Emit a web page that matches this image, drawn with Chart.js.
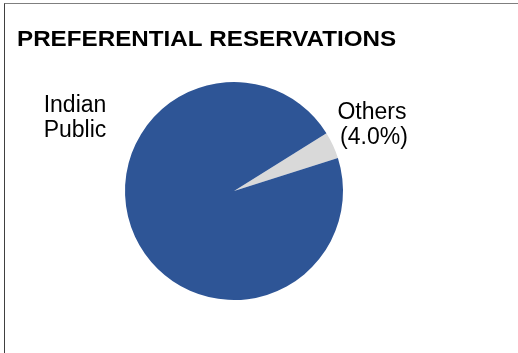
<!DOCTYPE html>
<html>
<head>
<meta charset="utf-8">
<script src="https://cdn.jsdelivr.net/npm/chart.js@4/dist/chart.umd.min.js"></script>
<style>
  html, body { margin: 0; padding: 0; background: #fff; overflow: hidden; }
  #wrap { position: relative; width: 518px; height: 353px; }
  #frame {
    position: absolute; left: 4px; top: 3px; width: 600px; height: 400px;
    border-top: 1px solid #7f7f7f; border-left: 1px solid #404040;
  }
  canvas { position: absolute; left: 0; top: 0; }
</style>
</head>
<body>
<div id="wrap">
  <div id="frame"></div>
  <canvas id="chart" width="518" height="353"></canvas>
</div>
<script>
const chartTitle = "PREFERENTIAL RESERVATIONS";
const categories = ["Others", "Indian Public"];
const shares = [4.0, 96.0];
const sliceColors = ["#d9d9d9", "#2e5596"];

const FONT = "'Liberation Sans', Arial, sans-serif";

// title + slice labels, placed off the arcs the library computed
const labelPlugin = {
    id: 'labels',
    afterDraw(chart){
        const ctx = chart.ctx;
        const arcs = chart.getDatasetMeta(0).data;
        ctx.save();
        ctx.fillStyle = "#000";
        ctx.textBaseline = "alphabetic";

        // the original title is a bit wider than Arial bold, so stretch it
        ctx.save();
        ctx.translate(17, 46);
        ctx.scale(1.1, 1);
        ctx.font = "bold 22px " + FONT;
        ctx.textAlign = "left";
        ctx.fillText(chartTitle, 0, 0);
        ctx.restore();

        ctx.font = "23px " + FONT;

        // Others: outside the slice, along its middle angle
        const a = arcs[0];
        const mid = (a.startAngle + a.endAngle) / 2;
        const dist = a.outerRadius + 43;
        const lx = a.x + Math.cos(mid) * dist;
        const ly = a.y + Math.sin(mid) * dist;
        ctx.textAlign = "center";
        ctx.fillText(categories[0], lx, ly - 8);
        ctx.fillText("(" + shares[0].toFixed(1) + "%)", lx + 2, ly + 17);

        // Indian Public: best-fit spot, upper left of the pie
        const b = arcs[1];
        const bx = b.x - b.outerRadius - 50;
        const by = b.y - 79;
        const words = categories[1].split(" ");
        ctx.fillText(words[0], bx, by);
        ctx.fillText(words[1], bx, by + 25);
        ctx.restore();
    }
};

new Chart(document.getElementById('chart'), {
    type: 'pie',
    data: {
        labels: categories,
        datasets: [{
            data: shares,
            backgroundColor: sliceColors,
            borderWidth: 0
        }]
    },
    options: {
        responsive: false,
        animation: false,
        rotation: 58,
        layout: { padding: { left: 125, right: 175, top: 82, bottom: 53 } },
        plugins: {
            legend: { display: false },
            tooltip: { enabled: false },
            title: { display: false }
        }
    },
    plugins: [labelPlugin]
});
</script>
</body>
</html>
